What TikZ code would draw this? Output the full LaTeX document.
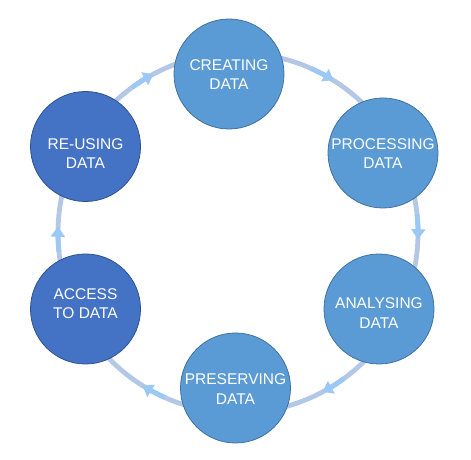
\documentclass[tikz,border=0pt]{standalone}
\usepackage{fontspec}
\setmainfont{Liberation Sans}
\usetikzlibrary{arrows.meta,calc}
\definecolor{lightstage}{HTML}{5B9BD5}
\definecolor{darkstage}{HTML}{4472C4}
\definecolor{lightedge}{HTML}{41719C}
\definecolor{darkedge}{HTML}{2F528F}
\definecolor{ringcol}{HTML}{B4C7E7}
\definecolor{arrowcol}{HTML}{9CC8F5}
\tikzset{
  stage/.style={circle, minimum size=110pt, inner sep=0pt, fill=lightstage, draw=lightedge, line width=0.8pt},
  darkstagebox/.style={stage, fill=darkstage, draw=darkedge},
  txt/.style={text=white, align=center, font=\fontsize{15.5}{19.5}\selectfont, inner sep=0pt},
  ringline/.style={draw=ringcol, line width=4.8pt},
  arrowseg/.style={draw=arrowcol, line width=4.8pt, -{Triangle[width=14pt,length=10pt]}},
}
\begin{document}
\begin{tikzpicture}[x=1pt,y=1pt]
\useasboundingbox (0,0) rectangle (471,460);
\coordinate (ring) at (238,227);
\draw[ringline] (ring) circle[radius=180];
\foreach \t in {118,58,-2,-62,-122,178}{
  \draw[arrowseg] ($(ring)+(\t+8:180)$) arc[start angle=\t+8, end angle=\t, radius=180];
}
\node[stage] (create) at (229,386) {};
\node[stage] (process) at (383,307) {};
\node[stage] (analyse) at (379,151) {};
\node[stage] (preserve) at (235.5,72) {};
\node[darkstagebox] (access) at (85.5,151) {};
\node[darkstagebox] (reuse) at (85.5,313.5) {};
\node[txt] (tcreate) at ($(create)+(0,-0.5)$) {CREATING\\DATA};
\node[txt] (tprocess) at ($(process)+(0,-0.5)$) {PROCESSING\\DATA};
\node[txt] (tanalyse) at ($(analyse)+(0,-4)$) {ANALYSING\\DATA};
\node[txt] (tpreserve) at ($(preserve)+(0,-1)$) {PRESERVING\\DATA};
\node[txt] (taccess) at ($(access)+(0,5.5)$) {ACCESS\\TO DATA};
\node[txt] (treuse) at ($(reuse)+(0,-7)$) {RE-USING\\DATA};
\end{tikzpicture}
\end{document}
